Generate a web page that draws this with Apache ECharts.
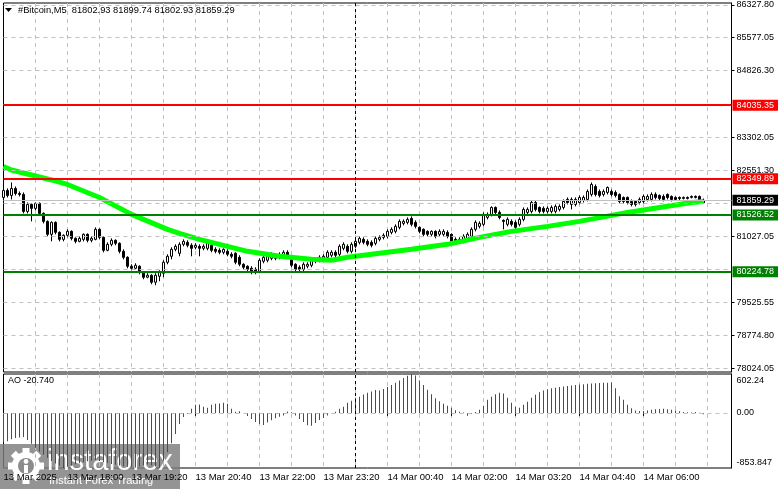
<!DOCTYPE html>
<html><head><meta charset="utf-8">
<script src="https://cdn.jsdelivr.net/npm/echarts@6/dist/echarts.min.js"></script>
<style>html,body{margin:0;padding:0;background:#fff}#c{width:781px;height:489px}</style>
</head><body><div id="c"></div>
<script>
// ---------------- data ----------------
const symbolName = '#Bitcoin,M5';
const tickLabels = ['13 Mar 2025','13 Mar 18:00','13 Mar 19:20','13 Mar 20:40','13 Mar 22:00','13 Mar 23:20','14 Mar 00:40','14 Mar 02:00','14 Mar 03:20','14 Mar 04:40','14 Mar 06:00'];
const priceTicks = [86327.80, 85577.05, 84826.30, 83302.05, 82551.30, 81027.05, 79525.55, 78774.80, 78024.05];
const priceGrid = [86327.80, 85577.05, 84826.30, 84064.05, 83302.05, 82551.30, 81789.30, 81027.05, 80276.30, 79525.55, 78774.80, 78024.05];
const resistanceLevels = [84035.35, 82349.89];
const supportLevels = [81526.52, 80224.78];
const aoTicks = [602.24, 0, -853.847];
const aoTickLabels = ['602.24', '0.00', '-853.847'];

const opens = [
81925,82085,81971,82131,82017,81994,81606,81766,81675,81789,
81561,81378,81082,81355,81127,80967,81059,81150,80990,80922,
80967,81082,80945,80967,81196,81013,80717,80853,80945,80876,
80694,80557,80352,80306,80352,80215,80101,80146,79987,80124,
80192,80443,80580,80739,80648,80853,80899,80831,80785,80808,
80762,80762,80831,80739,80717,80671,80694,80625,80648,80557,
80397,80352,80306,80283,80238,80466,80489,80534,80603,80557,
80603,80671,80580,80397,80329,80283,80352,80374,80466,80489,
80534,80557,80603,80671,80625,80762,80808,80694,80808,80899,
80967,80922,80899,80876,80967,81013,81036,81127,81150,81241,
81332,81355,81446,81355,81241,81196,81150,81082,81150,81082,
81082,81127,81082,80967,80967,80922,80967,81036,81196,81264,
81310,81469,81538,81697,81583,81401,81310,81378,81355,81310,
81424,81583,81606,81811,81697,81675,81606,81606,81606,81652,
81697,81880,81766,81766,81811,81857,81880,81994,82176,82062,
81994,82040,82062,82040,81994,81925,81925,81834,81834,81811,
81834,81880,81880,81994,81971,81948,81994,81948,81925,81925,
81903,81925,81925,81948,81948,81802.93];
const closes = [
82085,81971,82131,82017,81994,81606,81766,81675,81789,81561,
81378,81082,81355,81127,80967,81059,81150,80990,80922,80990,
81082,80945,80990,81196,81013,80717,80853,80945,80876,80694,
80557,80352,80306,80374,80215,80101,80146,79987,80146,80215,
80443,80580,80739,80808,80853,80922,80831,80762,80831,80762,
80808,80899,80717,80694,80671,80739,80625,80580,80443,80397,
80329,80283,80238,80238,80489,80557,80580,80625,80534,80625,
80671,80580,80374,80283,80283,80397,80397,80511,80511,80557,
80580,80671,80671,80603,80808,80853,80694,80853,80922,80990,
80899,80853,80831,80990,81013,81059,81150,81196,81264,81378,
81378,81424,81310,81264,81150,81082,81082,81150,81036,81150,
81150,81036,80922,80899,80922,81036,81082,81196,81355,81332,
81538,81538,81697,81583,81469,81378,81424,81310,81241,81424,
81652,81652,81811,81652,81606,81606,81675,81697,81720,81720,
81834,81811,81880,81880,81925,81925,82062,82222,81994,81971,
82062,82154,81994,81971,81834,81834,81811,81766,81766,81880,
81948,81948,81994,81925,81903,81880,81925,81880,81880,81903,
81925,81903,81948,81925,81810,81859.29];
const lows = [
81834,81925,81880,81971,81948,81561,81561,81378,81629,81515,
81332,81036,80922,81082,80922,80922,81013,80945,80876,80899,
80922,80899,80899,80945,80967,80671,80694,80808,80831,80648,
80511,80306,80261,80283,80169,80055,80078,79941,79918,80010,
80101,80397,80511,80694,80580,80808,80785,80580,80739,80580,
80717,80717,80671,80648,80625,80625,80580,80534,80397,80352,
80283,80238,80169,80169,80192,80420,80443,80489,80489,80511,
80557,80534,80329,80238,80238,80238,80306,80329,80420,80443,
80489,80511,80557,80557,80580,80717,80648,80648,80762,80853,
80853,80808,80785,80831,80922,80967,80990,81082,81104,81196,
81287,81310,81264,81218,81104,81036,81036,81036,80990,81036,
81036,80990,80876,80853,80876,80876,80922,80990,81150,81218,
81264,81424,81492,81538,81424,81196,81264,81264,81196,81264,
81378,81538,81561,81606,81561,81561,81561,81561,81561,81606,
81652,81766,81652,81720,81766,81811,81834,81948,81948,81925,
81948,81994,81948,81925,81789,81789,81766,81720,81720,81766,
81789,81834,81834,81880,81857,81834,81880,81834,81857,81857,
81880,81880,81903,81903,81790,81802.93];
const highs = [
82154,82131,82268,82176,82062,82040,81811,81789,81811,81811,
81583,81401,81378,81378,81150,81082,81196,81173,81013,81036,
81104,81104,81036,81241,81218,81036,80899,80990,80967,80899,
80739,80580,80397,80420,80374,80238,80192,80169,80192,80261,
80489,80625,80785,80853,80899,80967,80945,80876,80876,80853,
80853,80945,80876,80785,80762,80762,80739,80671,80671,80603,
80420,80374,80352,80329,80534,80603,80625,80671,80648,80671,
80717,80717,80603,80420,80374,80443,80443,80557,80557,80603,
80625,80717,80717,80717,80853,80899,80853,80899,80967,81036,
81013,80967,80945,81036,81059,81104,81196,81241,81310,81424,
81424,81469,81492,81401,81264,81218,81173,81173,81173,81196,
81196,81173,81104,81013,81013,81082,81127,81241,81401,81378,
81583,81583,81720,81720,81629,81424,81469,81424,81401,81469,
81697,81697,81857,81857,81720,81720,81720,81743,81766,81766,
81880,81925,81925,81925,81971,81971,82108,82268,82222,82108,
82108,82176,82108,82085,82017,81948,81948,81880,81857,81925,
81994,81994,82040,82040,81994,81994,82017,81971,81948,81948,
81948,81948,81971,81971,81971,81899.74];
// moving average read at selected bars: [bar index, value]
const maPoints = [[0,82633],[2,82553],[12,82325],[16,82222],[24,81925],[32,81538],[41,81196],[44,81104],[49,80967],[52,80899],[61,80694],[69,80580],[77,80511],[82,80489],[86,80557],[94,80648],[102,80739],[111,80853],[119,81013],[127,81150],[136,81264],[144,81378],[156,81583],[164,81697],[172,81811],[175,81834]];
const aoValues = [
-454,-438,-407,-391,-380,-372,-420,-480,-540,-600,
-650,-700,-745,-785,-820,-853.847,-835,-815,-795,-780,
-765,-750,-740,-730,-745,-760,-775,-790,-805,-815,
-825,-835,-840,-845,-830,-815,-800,-815,-830,-845,
-740,-610,-470,-329,-172,-63,-16,63,125,130,
94,80,125,140,146,157,140,63,16,25,
0,-47,-94,-141,-172,-188,-150,-115,-85,-60,
-40,20,10,-40,-95,-141,-190,-200,-157,-110,
-78,-40,-5,16,63,94,157,188,235,250,
285,310,330,355,345,370,400,430,465,500,
540,575,602.24,580,500,430,360,290,225,180,
141,110,78,40,18,5,-45,-16,15,47,
110,204,250,290,310,300,235,157,94,78,
125,172,235,280,320,345,365,380,390,400,
410,418,425,432,438,444,450,455,460,462,
465,468,470,380,256,204,125,73,36,31,
30,36,47,57,60,63,57,47,36,25,
15,10,5,12,2,-20.74];

// ---------------- build ----------------
const months = ['Jan','Feb','Mar','Apr','May','Jun','Jul','Aug','Sep','Oct','Nov','Dec'];
const t0 = Date.UTC(2025, 2, 13, 16, 40);
const pad = n => String(n).padStart(2, '0');
const categories = Array.from({length: 183}, (_, i) => {
  const d = new Date(t0 + i * 300000);
  return d.getUTCDate() + ' ' + months[d.getUTCMonth()] + ' ' + pad(d.getUTCHours()) + ':' + pad(d.getUTCMinutes());
});
const daySep = categories.indexOf('14 Mar 00:00');
const candles = opens.map((o, i) => [o, closes[i], lows[i], highs[i]]);
const last = opens.length - 1;
const lastClose = closes[last];
const titleText = symbolName + '  ' + [opens[last], highs[last], lows[last], closes[last]].map(v => v.toFixed(2)).join(' ');
const aoText = 'AO ' + aoValues[last].toFixed(3);

const FONT = 'Liberation Sans';
const gridDash = {color: '#c0c0c0', type: [4, 4], width: 1};

function makeX(gi) {
  const bottom = gi === 1;
  return {
    type: 'category', gridIndex: gi, data: categories, boundaryGap: false,
    axisLine: {show: false},
    axisTick: {show: bottom, interval: i => i % 16 === 0 && i <= 160, length: 3, lineStyle: {color: '#000'}},
    axisLabel: {show: bottom, interval: i => i % 16 === 0 && i <= 160, align: 'left', margin: 4,
      fontSize: 9.5, fontFamily: FONT, color: '#000', hideOverlap: false,
      formatter: v => tickLabels[categories.indexOf(v) / 16]},
    splitLine: {show: true, interval: i => i % 8 === 0 && i > 0, lineStyle: gridDash}
  };
}

function levelLine(v, color) {
  return {yAxis: v, lineStyle: {color: color, width: 2, type: 'solid'},
    label: {backgroundColor: color}};
}

const lblBox = {show: true, position: 'end', distance: 1, color: '#fff', fontSize: 9, fontFamily: FONT,
  padding: [1, 4, 0, 4], lineHeight: 10, formatter: p => Number(p.value).toFixed(2)};

const chart = echarts.init(document.getElementById('c'), null, {renderer: 'canvas'});

// watermark gear teeth
const gcx = 26, gcy = 466;
const teeth = [];
for (let k = 0; k < 8; k++) {
  teeth.push({type: 'rect', x: gcx, y: gcy, rotation: k * Math.PI / 4,
    shape: {x: -3.5, y: -18, width: 7, height: 7}, style: {fill: '#fff'}});
}

chart.setOption({
  animation: false,
  backgroundColor: '#fff',
  grid: [
    {left: 3.5, top: 3, width: 728, height: 369, show: true, borderColor: '#000', borderWidth: 1, outerBoundsMode: 'none', containLabel: false},
    {left: 3.5, top: 374, width: 728, height: 94, show: true, borderColor: '#000', borderWidth: 1, outerBoundsMode: 'none', containLabel: false}
  ],
  xAxis: [makeX(0), makeX(1)],
  yAxis: [
    {type: 'value', gridIndex: 0, position: 'right', min: 77935, max: 86370,
      axisLine: {show: true, lineStyle: {color: '#000'}},
      axisTick: {show: true, customValues: priceTicks, length: 3, lineStyle: {color: '#000'}},
      axisLabel: {customValues: priceTicks, formatter: v => v.toFixed(2), margin: 5, fontSize: 9, fontFamily: FONT, color: '#000'},
      splitLine: {show: false}},
    {type: 'value', gridIndex: 1, position: 'right', min: -853.847, max: 602.24,
      axisLine: {show: true, lineStyle: {color: '#000'}},
      axisTick: {show: false},
      axisLabel: {customValues: aoTicks, margin: 5, fontSize: 9, fontFamily: FONT, color: '#000',
        formatter: v => {
          let k = 0, best = Infinity;
          aoTicks.forEach((t, j) => { if (Math.abs(t - v) < best) { best = Math.abs(t - v); k = j; } });
          const tag = k === 0 ? 't' : (k === 2 ? 'b' : 'm');
          return '{' + tag + '|' + aoTickLabels[k] + '}';
        },
        rich: {
          t: {padding: [14, 0, 0, 0], fontSize: 9, fontFamily: FONT, color: '#000'},
          m: {fontSize: 9, fontFamily: FONT, color: '#000'},
          b: {padding: [0, 0, 10, 0], fontSize: 9, fontFamily: FONT, color: '#000'}
        }},
      splitLine: {show: false}}
  ],
  series: [
    {type: 'line', xAxisIndex: 0, yAxisIndex: 0, data: [], z: 1, silent: true,
      markLine: {symbol: ['none', 'none'], silent: true, label: {show: false}, lineStyle: gridDash,
        data: priceGrid.map(v => ({yAxis: v}))}},
    {type: 'line', xAxisIndex: 0, yAxisIndex: 0, data: [], z: 2, silent: true,
      markLine: {symbol: ['none', 'none'], silent: true,
        lineStyle: {color: '#c0c0c0', width: 1, type: 'solid'},
        label: Object.assign({}, lblBox, {backgroundColor: '#000'}),
        data: [{yAxis: lastClose}]}},
    {type: 'candlestick', xAxisIndex: 0, yAxisIndex: 0, data: candles, barWidth: 3, clip: false, z: 3,
      itemStyle: {color: '#ffffff', color0: '#000000', borderColor: '#000000', borderColor0: '#000000', borderWidth: 1}},
    {type: 'line', xAxisIndex: 0, yAxisIndex: 0, data: maPoints, z: 4, showSymbol: false, smooth: false,
      lineStyle: {color: '#00ff00', width: 5}},
    {type: 'line', xAxisIndex: 0, yAxisIndex: 0, data: [], z: 5, silent: true,
      markLine: {symbol: ['none', 'none'], silent: true, label: lblBox,
        data: resistanceLevels.map(v => levelLine(v, '#ff0000')).concat(supportLevels.map(v => levelLine(v, '#008000')))}},
    {type: 'line', xAxisIndex: 0, yAxisIndex: 0, data: [], z: 6, silent: true,
      markLine: {symbol: ['none', 'none'], silent: true, label: {show: false},
        lineStyle: {color: '#000', width: 1, type: [3, 3]}, data: [{xAxis: daySep}]}},
    {type: 'line', xAxisIndex: 1, yAxisIndex: 1, data: [], z: 1, silent: true,
      markLine: {symbol: ['none', 'none'], silent: true, label: {show: false},
        lineStyle: gridDash, data: [{yAxis: 0}]}},
    {type: 'line', xAxisIndex: 1, yAxisIndex: 1, data: [], z: 2, silent: true,
      markLine: {symbol: ['none', 'none'], silent: true, label: {show: false},
        lineStyle: {color: '#000', width: 1, type: [3, 3]}, data: [{xAxis: daySep}]}},
    {type: 'bar', xAxisIndex: 1, yAxisIndex: 1, data: aoValues, barWidth: 1, z: 3,
      itemStyle: {color: p => (p.dataIndex === 0 || aoValues[p.dataIndex] < aoValues[p.dataIndex - 1]) ? '#ff0000' : '#008000'}}
  ],
  graphic: [
    {type: 'polygon', shape: {points: [[5, 8], [12, 8], [8.5, 12]]}, style: {fill: '#000'}, z: 10},
    {type: 'text', x: 18, y: 10, style: {text: titleText, fontSize: 9.3, fontFamily: FONT, fill: '#000', verticalAlign: 'middle'}, z: 10},
    {type: 'text', x: 8, y: 381, style: {text: aoText, fontSize: 9, fontFamily: FONT, fill: '#000', verticalAlign: 'middle'}, z: 10},
    {type: 'group', z: 20, children: [
      {type: 'rect', shape: {x: 0, y: 444, width: 180, height: 45}, style: {fill: 'rgba(125,125,125,0.82)'}},
      {type: 'circle', shape: {cx: gcx, cy: gcy, r: 14}, style: {fill: '#fff'}},
      ...teeth,
      {type: 'circle', shape: {cx: gcx, cy: gcy, r: 8}, style: {fill: 'rgb(140,140,140)'}},
      {type: 'circle', shape: {cx: gcx, cy: gcy - 4.5, r: 2.4}, style: {fill: '#fff'}},
      {type: 'rect', shape: {x: gcx - 2, y: gcy - 1, width: 4, height: 8}, style: {fill: '#fff'}},
      {type: 'text', x: 47, y: 462, style: {text: 'instaforex', fontSize: 29, fontFamily: FONT, fill: '#fff', verticalAlign: 'middle'}},
      {type: 'text', x: 49, y: 481, style: {text: 'Instant Forex Trading', fontSize: 11, fontFamily: FONT, fill: '#fff', verticalAlign: 'middle'}}
    ]}
  ]
});
</script></body></html>
